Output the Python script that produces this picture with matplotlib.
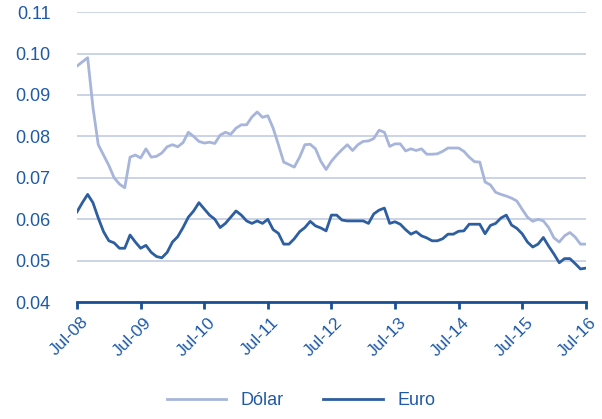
import matplotlib.pyplot as plt
import matplotlib.transforms as mtransforms
import numpy as np

# monthly values, Jul-08 .. Jul-16
dolar = [0.097, 0.098, 0.099, 0.087, 0.078, 0.0755, 0.073, 0.070, 0.0685, 0.0676,
         0.075, 0.0755, 0.0748, 0.077, 0.075, 0.0752, 0.076, 0.0775, 0.078, 0.0775,
         0.0785, 0.081, 0.080, 0.0788, 0.0784, 0.0786, 0.0783, 0.0803, 0.081, 0.0805,
         0.082, 0.0828, 0.0828, 0.0847, 0.0859, 0.0846, 0.085, 0.082, 0.078, 0.0738,
         0.0732, 0.0726, 0.075, 0.078, 0.0781, 0.077, 0.074, 0.072, 0.074, 0.0755,
         0.0768, 0.078, 0.0766, 0.078, 0.0788, 0.0789, 0.0795, 0.0815, 0.081, 0.0776,
         0.0782, 0.0782, 0.0765, 0.077, 0.0766, 0.077, 0.0757, 0.0757, 0.0758, 0.0764,
         0.0772, 0.0772, 0.0772, 0.0764, 0.075, 0.0739, 0.0738, 0.069, 0.0683, 0.0665,
         0.066, 0.0656, 0.0651, 0.0644, 0.0624, 0.0605, 0.0595, 0.060, 0.0596, 0.058,
         0.0555, 0.0545, 0.056, 0.0568, 0.0557, 0.054, 0.054]

euro = [0.0618, 0.064, 0.066, 0.064, 0.0603, 0.057, 0.0548, 0.0543, 0.053, 0.053,
        0.0562, 0.0545, 0.053, 0.0537, 0.052, 0.051, 0.0507, 0.052, 0.0545, 0.0558,
        0.058, 0.0605, 0.062, 0.064, 0.0625, 0.061, 0.060, 0.058, 0.059, 0.0605,
        0.062, 0.061, 0.0596, 0.059, 0.0596, 0.059, 0.060, 0.0575, 0.0566, 0.054,
        0.054, 0.0553, 0.057, 0.058, 0.0595, 0.0584, 0.0579, 0.0572, 0.061, 0.061,
        0.0598, 0.0596, 0.0596, 0.0596, 0.0596, 0.059, 0.0613, 0.0622, 0.0627, 0.059,
        0.0594, 0.0588, 0.0575, 0.0564, 0.057, 0.056, 0.0555, 0.0548, 0.0548, 0.0553,
        0.0564, 0.0564, 0.0571, 0.0572, 0.0588, 0.0588, 0.0588, 0.0565, 0.0585, 0.059,
        0.0603, 0.061, 0.0586, 0.0578, 0.0565, 0.0545, 0.0533, 0.054, 0.0556, 0.0535,
        0.0516, 0.0495, 0.0505, 0.0505, 0.0493, 0.048, 0.0482]

tick_labels = ['Jul-08', 'Jul-09', 'Jul-10', 'Jul-11', 'Jul-12',
               'Jul-13', 'Jul-14', 'Jul-15', 'Jul-16']
yticks = [0.04, 0.05, 0.06, 0.07, 0.08, 0.09, 0.10, 0.11]

blue = '#1F5AA6'
axis_blue = '#1A4F96'

plt.rcParams['font.family'] = ['Liberation Sans', 'DejaVu Sans']

fig = plt.figure(figsize=(6.02, 4.19), dpi=100)
ax = fig.add_axes([0.128, 0.279, 0.845, 0.692])

x = np.arange(len(dolar))
ax.plot(x, dolar, color='#A7B5DB', linewidth=2.0, label='Dólar')
ax.plot(x, euro, color='#2D5E9F', linewidth=2.0, label='Euro')

ax.set_xlim(0, 96)
ax.set_ylim(0.04, 0.11)
ax.set_yticks(yticks)
ax.set_yticklabels(['%.2f' % v for v in yticks])
ax.set_xticks(np.arange(0, 97, 12))
ax.set_xticklabels(tick_labels, rotation=45, ha='right', rotation_mode='anchor')

ax.grid(axis='y', color='#C5CCE4', linewidth=1.2)
ax.set_axisbelow(True)
for s in ['top', 'right', 'left']:
    ax.spines[s].set_visible(False)
ax.spines['bottom'].set_color(axis_blue)
ax.spines['bottom'].set_linewidth(2)

ax.tick_params(axis='y', length=0, pad=19, labelsize=13, labelcolor=blue)
ax.tick_params(axis='x', length=5, width=2, color=axis_blue, direction='out',
               pad=4, labelsize=12.5, labelcolor=blue)

# nudge the rotated date labels a little to the right, like the original
shift = mtransforms.ScaledTranslation(0.035, 0, fig.dpi_scale_trans)
for lab in ax.get_xticklabels():
    lab.set_transform(lab.get_transform() + shift)

leg = fig.legend(loc='lower center', bbox_to_anchor=(0.5, -0.015), ncol=2,
                 frameon=False, fontsize=13, handlelength=3.3, columnspacing=2.2)
for t in leg.get_texts():
    t.set_color(blue)

fig.savefig('out.png', dpi=100)
